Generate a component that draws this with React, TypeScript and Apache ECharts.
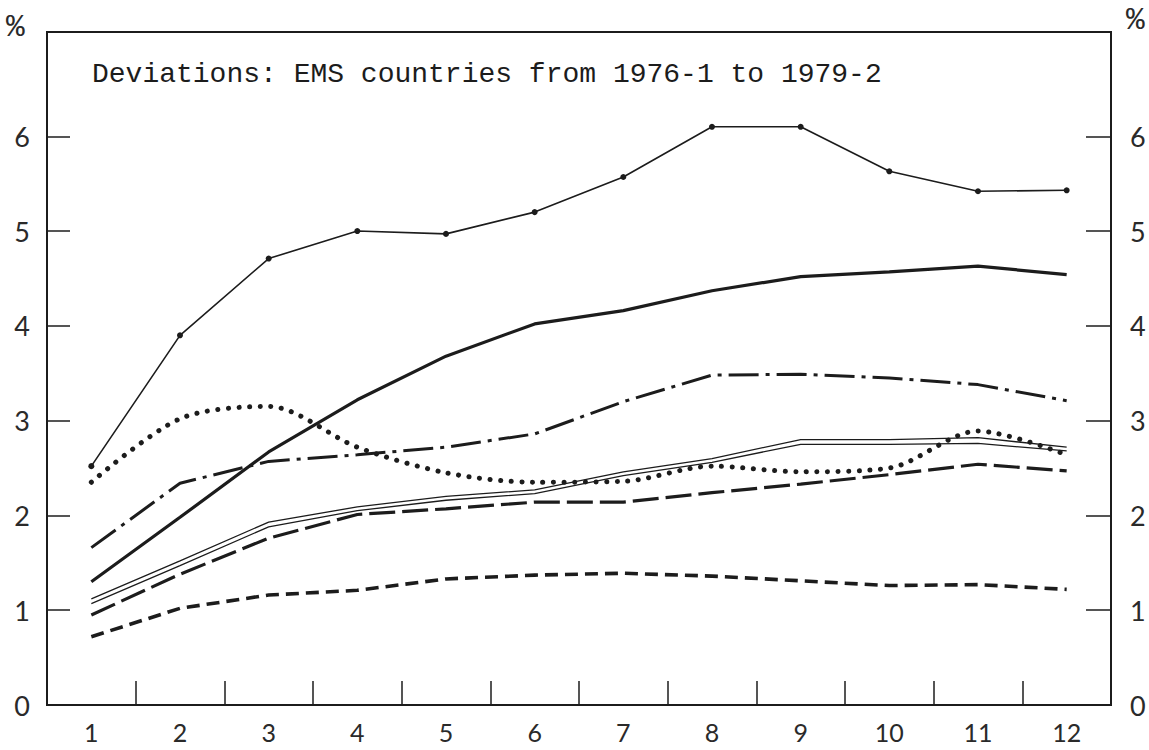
import React, { useEffect, useRef } from "react";
import * as echarts from "echarts";

const categories = ["1", "2", "3", "4", "5", "6", "7", "8", "9", "10", "11", "12"];
const yTickValues = [0, 1, 2, 3, 4, 5, 6];
const titleText = "Deviations: EMS countries from 1976-1 to 1979-2";

const dottedMarkers = [2.52, 3.9, 4.71, 5.0, 4.97, 5.2, 5.57, 6.1, 6.1, 5.63, 5.42, 5.43];
const thickSolid = [1.3, 1.98, 2.67, 3.22, 3.68, 4.02, 4.16, 4.37, 4.52, 4.57, 4.63, 4.54];
const dashDot = [1.66, 2.34, 2.57, 2.64, 2.72, 2.86, 3.2, 3.48, 3.49, 3.45, 3.38, 3.21];
const dotted = [2.35, 3.02, 3.15, 2.72, 2.45, 2.35, 2.36, 2.52, 2.46, 2.5, 2.89, 2.64];
const doubleUpper = [1.12, 1.52, 1.93, 2.09, 2.2, 2.27, 2.46, 2.6, 2.8, 2.8, 2.82, 2.72];
const doubleLower = [1.07, 1.47, 1.88, 2.05, 2.16, 2.23, 2.42, 2.56, 2.75, 2.75, 2.76, 2.68];
const longDash = [0.95, 1.38, 1.76, 2.01, 2.07, 2.14, 2.14, 2.24, 2.33, 2.43, 2.54, 2.47];
const shortDash = [0.72, 1.02, 1.16, 1.21, 1.33, 1.37, 1.39, 1.36, 1.31, 1.26, 1.27, 1.22];

const INK = "#1c1c1c";
const LABEL_FONT = "Lato, 'Open Sans', sans-serif";
const MONO = "'Liberation Mono', 'DejaVu Sans Mono', monospace";

export default function App() {
  const ref = useRef<HTMLDivElement>(null);

  useEffect(() => {
    if (!ref.current) return;
    const chart = echarts.init(ref.current, null, { renderer: "svg" });

    const lineBase = (name: string, data: number[], width: number, type: any, extra: any = {}) => ({
      name,
      type: "line",
      data,
      symbol: "none",
      lineStyle: { color: INK, width, type },
      itemStyle: { color: INK },
      z: 3,
      ...extra,
    });

    const valueAxis = (position: "left" | "right", tickLen: number, margin: number) => ({
      type: "value",
      position,
      min: 0,
      max: 7.1,
      interval: 1,
      splitLine: { show: false },
      axisLine: { show: true, lineStyle: { color: INK, width: 2 } },
      axisTick: {
        show: true,
        inside: true,
        length: tickLen,
        lineStyle: { color: INK, width: 1.5 },
        customValues: [1, 2, 3, 4, 5, 6],
      },
      axisLabel: {
        show: true,
        margin,
        color: "#2a2a2a",
        fontFamily: LABEL_FONT,
        fontSize: 27,
        customValues: yTickValues,
      },
    });

    chart.setOption({
      animation: false,
      backgroundColor: "#ffffff",
      grid: {
        left: 47,
        right: 38,
        top: 32,
        bottom: 45,
        show: true,
        borderColor: INK,
        borderWidth: 2,
        backgroundColor: "transparent",
      },
      xAxis: {
        type: "category",
        data: categories,
        boundaryGap: true,
        axisLine: { show: true, lineStyle: { color: INK, width: 2 } },
        axisTick: {
          show: true,
          inside: true,
          length: 24,
          interval: 0,
          alignWithLabel: false,
          lineStyle: { color: INK, width: 1.5 },
        },
        axisLabel: {
          margin: 14,
          interval: 0,
          color: "#2a2a2a",
          fontFamily: LABEL_FONT,
          fontSize: 25,
          lineHeight: 25,
        },
        splitLine: { show: false },
      },
      yAxis: [valueAxis("left", 23, 17), valueAxis("right", 25, 19)],
      graphic: [
        {
          type: "text",
          left: 92,
          top: 60,
          style: { text: titleText, font: `28px ${MONO}`, fill: INK },
        },
        {
          type: "text",
          left: 6,
          top: 12,
          style: { text: "%", font: `31px ${MONO}`, fill: "#2a2a2a" },
        },
        {
          type: "text",
          left: 1126,
          top: 5,
          style: { text: "%", font: `31px ${MONO}`, fill: "#2a2a2a" },
        },
      ],
      series: [
        lineBase("markers", dottedMarkers, 1.6, "solid", {
          symbol: "circle",
          symbolSize: 6,
          showSymbol: true,
        }),
        lineBase("thick", thickSolid, 3.2, "solid"),
        lineBase("dashDot", dashDot, 3, [30, 7, 4, 7]),
        lineBase("dotted", dotted, 5, [0.1, 10.5], {
          smooth: 0.3,
          lineStyle: { color: INK, width: 5, type: [0.1, 10.5], cap: "round" },
        }),
        lineBase("doubleUpper", doubleUpper, 1.3, "solid"),
        lineBase("doubleLower", doubleLower, 1.3, "solid"),
        lineBase("longDash", longDash, 3.2, [26, 7]),
        lineBase("shortDash", shortDash, 3.6, [13, 7]),
      ],
    });

    return () => chart.dispose();
  }, []);

  return (
    <div
      ref={ref}
      style={{ position: "fixed", left: 0, top: 0, width: 1149, height: 750, background: "#fff" }}
    />
  );
}
